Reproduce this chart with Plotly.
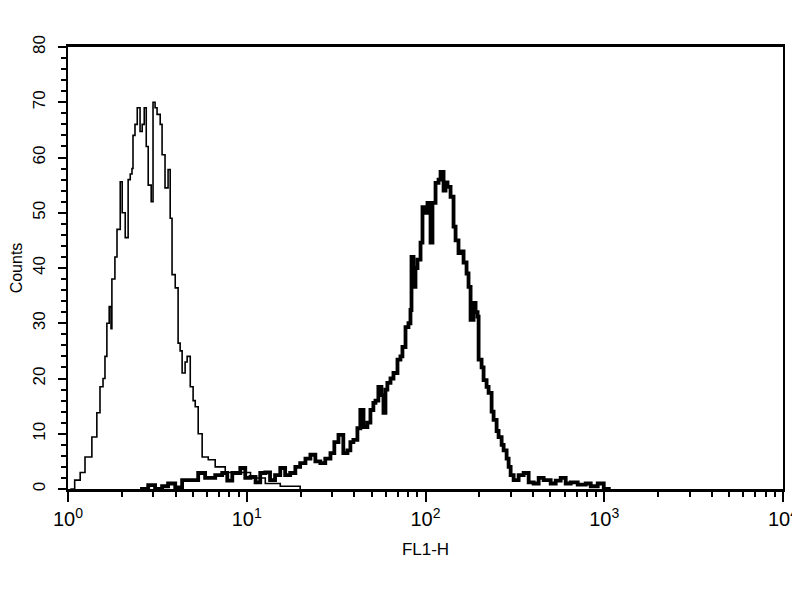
import plotly.graph_objects as go

# Isotype control histogram (thin line): FL1-H value, counts
thin_x = [1.03, 1.09, 1.17, 1.245, 1.36, 1.45, 1.51, 1.57, 1.61, 1.65, 1.70, 1.74, 1.76,
          1.83, 1.88, 1.96, 2.01, 2.09, 2.17, 2.23, 2.28, 2.31, 2.37, 2.44, 2.53, 2.60,
          2.67, 2.74, 2.81, 2.92, 2.99, 3.07, 3.15, 3.28, 3.36, 3.49, 3.63, 3.73, 3.82,
          3.98, 4.13, 4.24, 4.35, 4.52, 4.64, 4.83, 5.01, 5.15, 5.35, 5.63, 6.09, 6.66,
          7.58, 8.96, 10.5, 12.7, 15.4, 19.9]
thin_y = [0, 1.6, 3, 5.8, 9.4, 13.8, 18.5, 20, 24, 30, 33, 29, 38,
          42, 47, 55.6, 50, 45.5, 56, 57, 58, 64, 66, 69, 64.7, 66,
          69, 62, 55, 52, 70, 69, 67.8, 66, 60.5, 54.5, 57.8, 49, 38.8,
          36.4, 26.4, 25, 21, 23, 24, 18.5, 16, 14.9, 10, 5.8, 5.3, 4,
          3, 3, 2, 1, 0.5, 0]

# Stained sample histogram (thick line)
thick_x = [2.53, 2.81, 3.07, 3.36, 3.63, 3.98, 4.35, 4.83, 5.35, 5.85, 6.66, 7.29, 7.78,
           8.30, 9.20, 9.81, 10.5, 11.2, 11.9, 12.7, 13.5, 14.4, 15.4, 16.4, 17.5, 18.7,
           19.9, 21.3, 22.7, 24.2, 25.8, 27.5, 29.4, 30.9, 32.6, 34.7, 36.6, 38.0, 39.5,
           41.6, 43.2, 45.0, 47.3, 49.2, 51.1, 52.5, 54.5, 56.7, 58.2, 59.7, 61.2, 63.7,
           66.2, 69.7, 72.4, 74.3, 77.3, 80.3, 82.4, 83.5, 85.7, 87.9, 90.2, 93.8, 96.2,
           100.0, 102.6, 106.7, 109.4, 113.8, 118.3, 121.4, 126.2, 129.4, 132.8, 138.1,
           143.5, 147.3, 153.0, 157.1, 163.3, 169.7, 174.1, 178.7, 185.7, 190.6, 195.6,
           198.2, 205.9, 211.3, 219.6, 225.4, 234.3, 240.4, 249.9, 256.4, 266.6, 273.5,
           284.3, 291.7, 299.4, 311.2, 331.9, 354.0, 377.6, 402.7, 429.6, 458.2, 501.5,
           535.1, 570.6, 608.6, 649.2, 710.5, 787.5, 840.2, 919.5, 993.6, 1087]
thick_y = [0, 0.7, 0, 0.5, 1, 0.3, 1.6, 1.6, 2.9, 2, 2.5, 2.9, 1.5,
           2.9, 3.8, 2, 2.2, 1.2, 2.9, 3, 1.6, 2.5, 3.8, 2.5, 2.9, 4,
           4.7, 5.5, 6.2, 5, 4.7, 5.5, 6.5, 8.5, 9.8, 6.5, 7, 8.5, 8.9,
           11, 14.3, 11.2, 12, 14.3, 15.6, 16, 18.5, 17, 13.8, 18, 19.2, 20,
           21, 23.4, 24, 25.7, 29.3, 30, 32.4, 42, 36.6, 40, 41.5, 44.6, 51,
           50, 51.8, 44.6, 51.8, 55.4, 56, 57.4, 54, 55.5, 54.7, 52.9,
           47.5, 45, 42.7, 43, 41, 39, 36.6, 30.6, 33.7, 32, 31.2,
           23.4, 22, 19.7, 18.5, 17.4, 14, 12.5, 10.5, 9.4, 8, 7,
           5.5, 4, 2.5, 1.6, 2.5, 2.9, 1.2, 1, 2, 1.6, 1,
           1.5, 2, 1, 1.2, 0.8, 1, 0.5, 1, 0, 0]

x_tickvals = [1, 10, 100, 1000, 10000]
x_ticktext = ["10<sup>0</sup>", "10<sup>1</sup>", "10<sup>2</sup>", "10<sup>3</sup>", "10<sup>4</sup>"]
y_tickvals = [0, 10, 20, 30, 40, 50, 60, 70, 80]

minor_x = [m * 10 ** d for d in range(4) for m in range(2, 10)]

fig = go.Figure()
fig.add_trace(go.Scatter(x=thin_x, y=thin_y, mode="lines", line_shape="hv",
                         line=dict(color="black", width=1.6), showlegend=False))
fig.add_trace(go.Scatter(x=thick_x, y=thick_y, mode="lines", line_shape="hv",
                         line=dict(color="black", width=3.8), showlegend=False))

font_family = "Liberation Sans, Arial, sans-serif"
fig.update_layout(
    width=800, height=600,
    margin=dict(l=60, r=25, t=39, b=119),
    paper_bgcolor="white", plot_bgcolor="white",
    font=dict(family=font_family, color="black", size=16),
    xaxis=dict(type="log", range=[0, 4], tickvals=x_tickvals, ticktext=x_ticktext,
               automargin=False,
               ticks="outside", ticklen=10, tickwidth=2, tickcolor="black",
               showline=True, linecolor="black", linewidth=3, mirror=True,
               showgrid=False, zeroline=False, tickfont=dict(size=20),
               minor=dict(tickvals=minor_x, ticks="outside", ticklen=5, tickwidth=2,
                          tickcolor="black", showgrid=False),
               title=dict(text="FL1-H", font=dict(size=17))),
    yaxis=dict(range=[0, 80], tickvals=y_tickvals, tickangle=-90,
               automargin=False, ticklabelstandoff=6,
               ticks="outside", ticklen=8, tickwidth=2, tickcolor="black",
               showline=True, linecolor="black", linewidth=2, mirror=True,
               showgrid=False, zeroline=False, tickfont=dict(size=17),
               minor=dict(dtick=2, ticks="outside", ticklen=5, tickwidth=1.5,
                          tickcolor="black", showgrid=False),
               title=dict(text="Counts", font=dict(size=16))),
)

fig.write_html("out.html")
